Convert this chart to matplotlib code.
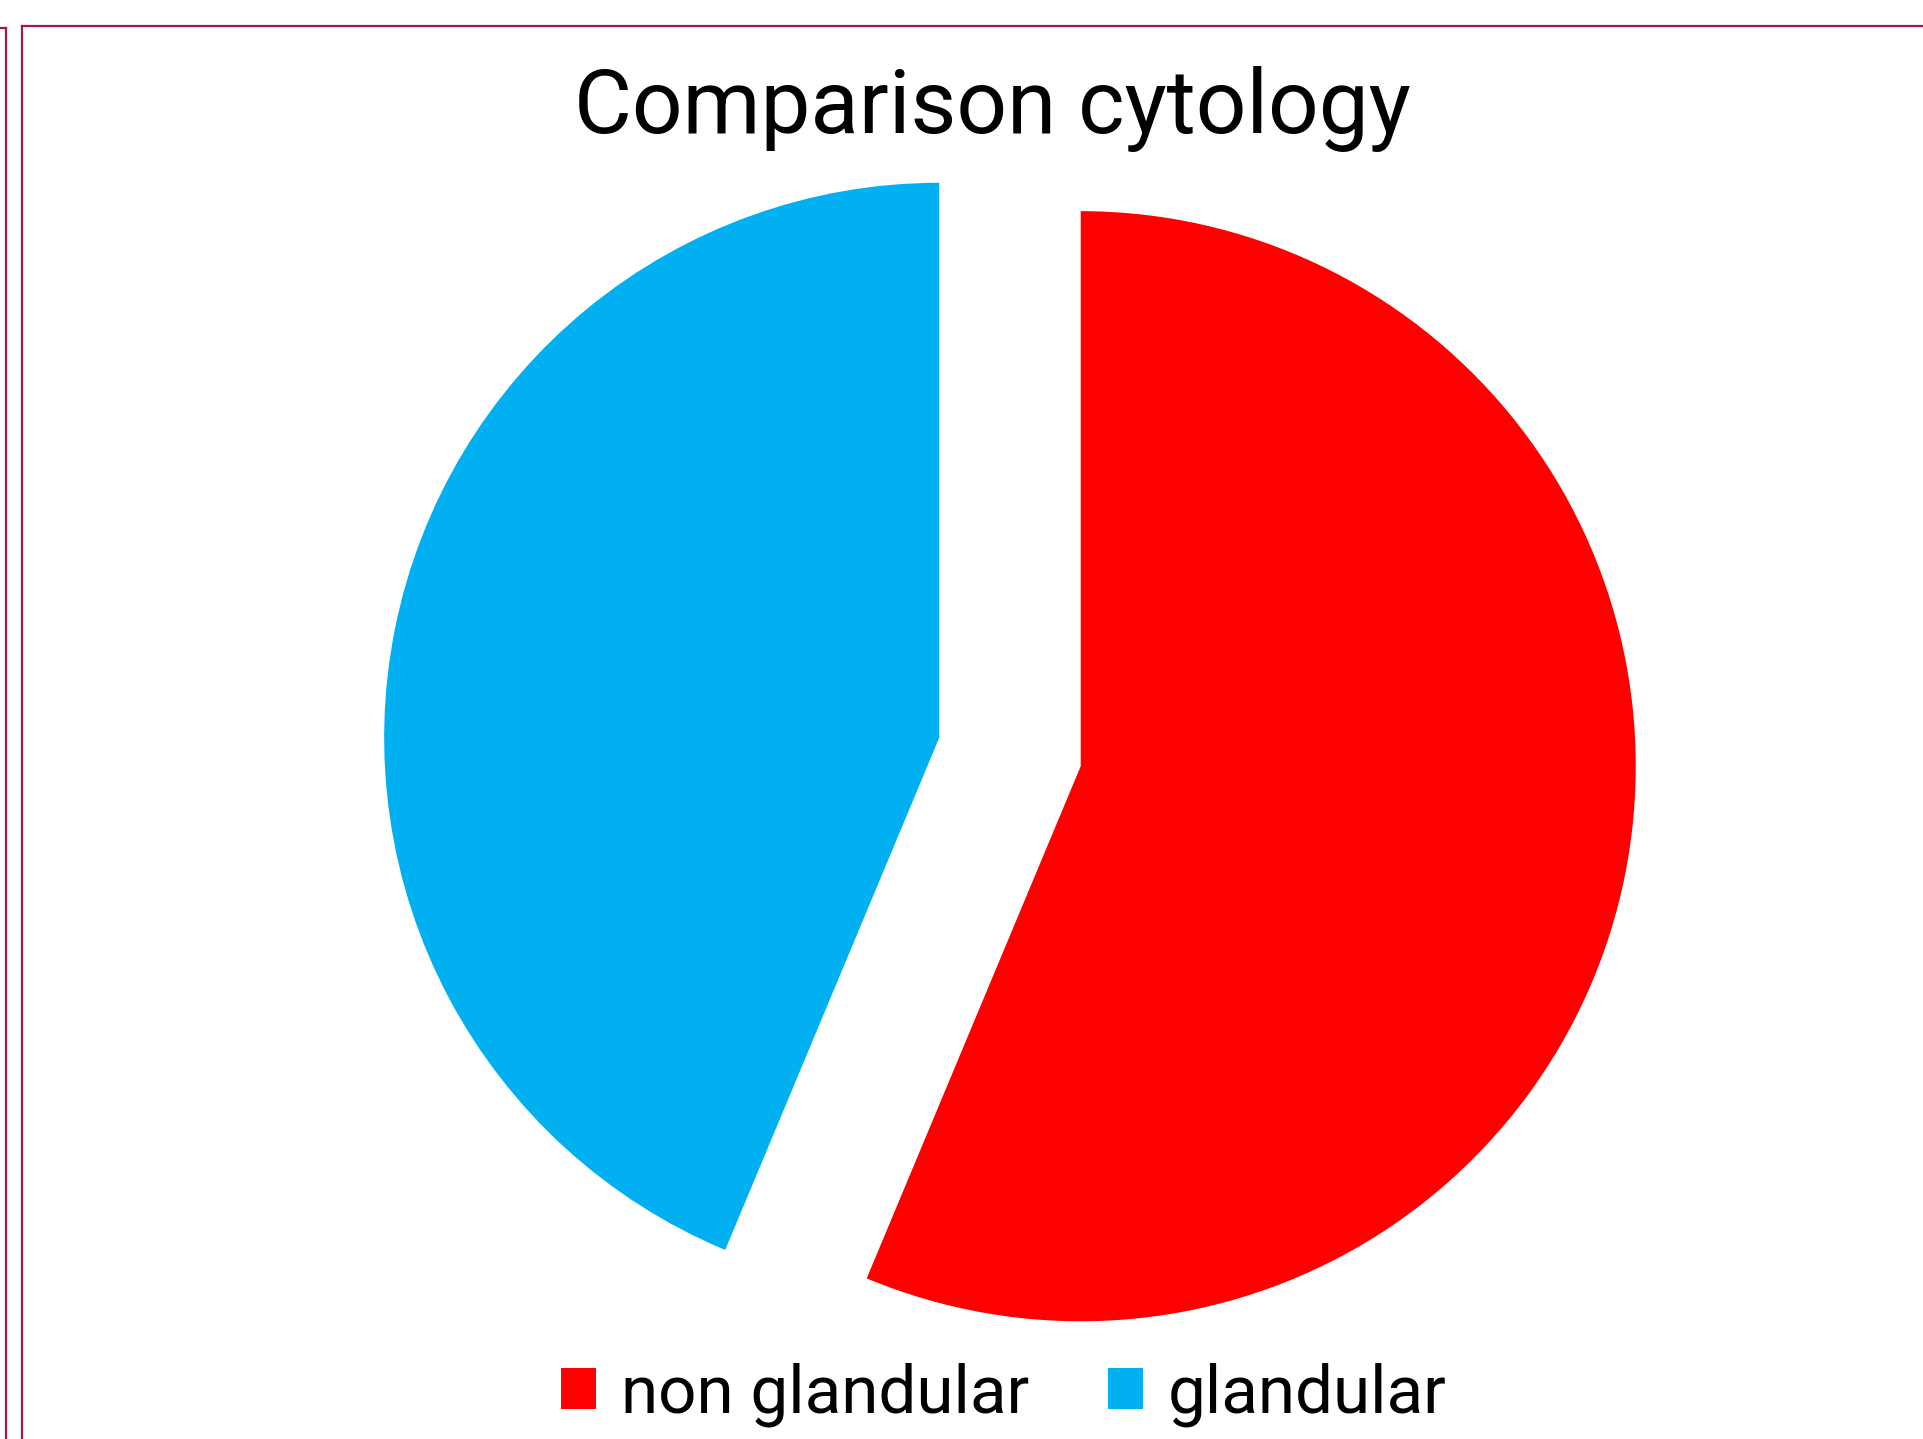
import numpy as np
import matplotlib.pyplot as plt
from matplotlib.lines import Line2D
from matplotlib.patches import Patch

plt.rcParams['font.family'] = ['Roboto', 'DejaVu Sans']

labels = ['non glandular', 'glandular']
values = [56.3, 43.7]
colors = ['#FF0000', '#00B0F0']
explode = [0.13, 0.13]

fig = plt.figure(figsize=(19.23, 14.39), dpi=100)

# pie axes: square 1300px box centred on the nominal pie centre
ax = fig.add_axes([0.1872, 0.0257, 0.676, 0.9034])
ax.pie(values, colors=colors, explode=explode, startangle=90, counterclock=False,
       radius=1.0, wedgeprops=dict(linewidth=0))
ax.set_xlim(-1.171, 1.171)
ax.set_ylim(-1.171, 1.171)
ax.set_aspect('equal')
ax.axis('off')

fig.text(0.516, 0.924, 'Comparison cytology', ha='center', va='center', fontsize=64)

handles = [Patch(facecolor=c, edgecolor='none') for c in colors]
fig.legend(handles, labels, loc='center', bbox_to_anchor=(0.522, 0.031), ncol=2,
           frameon=False, fontsize=48.5, handlelength=0.52, handleheight=0.55,
           handletextpad=0.37, columnspacing=1.17)

# frame lines from the slide
bc = '#A6193C'
fig.add_artist(Line2D([6/1923, 6/1923], [0, 1 - 28/1439], color=bc, lw=1.6, transform=fig.transFigure))
fig.add_artist(Line2D([0, 6/1923], [1 - 28/1439, 1 - 28/1439], color=bc, lw=1.6, transform=fig.transFigure))
fig.add_artist(Line2D([22/1923, 22/1923], [0, 1 - 26/1439], color=bc, lw=1.6, transform=fig.transFigure))
fig.add_artist(Line2D([22/1923, 1], [1 - 26/1439, 1 - 26/1439], color=bc, lw=1.6, transform=fig.transFigure))

fig.savefig('out.png', dpi=100)
